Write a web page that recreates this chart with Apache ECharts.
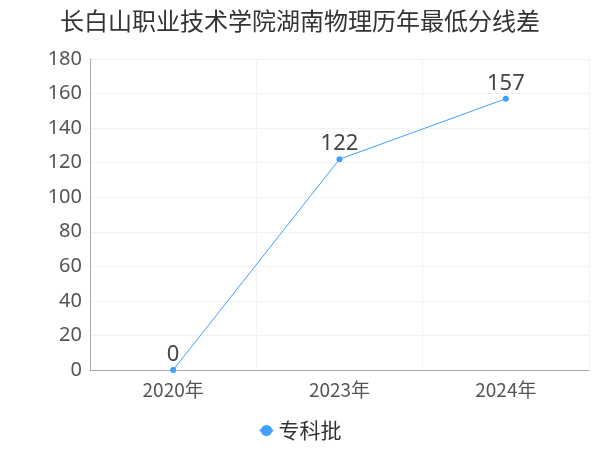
<!DOCTYPE html>
<html><head><meta charset="utf-8">
<script src="https://cdn.jsdelivr.net/npm/echarts@6/dist/echarts.min.js"></script>
</head><body style="margin:0">
<div id="c" style="width:600px;height:450px"></div>
<script>
const categories = ['2020年','2023年','2024年'];
const values = [0,122,157];
const seriesName = '专科批';
const chart = echarts.init(document.getElementById('c'));
chart.setOption({
  title:{text:'长白山职业技术学院湖南物理历年最低分线差',left:'center',top:4,textStyle:{fontSize:24,fontWeight:'normal',color:'#333',fontFamily:'Noto Sans CJK SC'}},
  legend:{bottom:4,itemWidth:14,itemHeight:14,textStyle:{fontSize:21,color:'#333',fontFamily:'Noto Sans CJK SC'},data:[seriesName]},
  grid:{left:90,right:11,top:59,bottom:80},
  xAxis:{type:'category',data:categories,axisLine:{lineStyle:{color:'#aaa'}},axisTick:{show:false},axisLabel:{fontSize:19,color:'#555',margin:10,fontFamily:'Noto Sans CJK SC'},splitLine:{show:true,lineStyle:{color:'#f2f2f2'}}},
  yAxis:{type:'value',min:0,max:180,interval:20,axisLine:{show:true,lineStyle:{color:'#aaa'}},axisTick:{show:false},axisLabel:{fontSize:20,color:'#555',fontFamily:'Noto Sans'},splitLine:{lineStyle:{color:'#f2f2f2'}}},
  series:[{name:seriesName,type:'line',data:values,color:'#3fa0ff',symbol:'circle',symbolSize:6,lineStyle:{width:1},label:{show:true,position:'top',fontSize:22,color:'#444',distance:1,fontFamily:'Noto Sans'}}]
});
</script></body></html>
